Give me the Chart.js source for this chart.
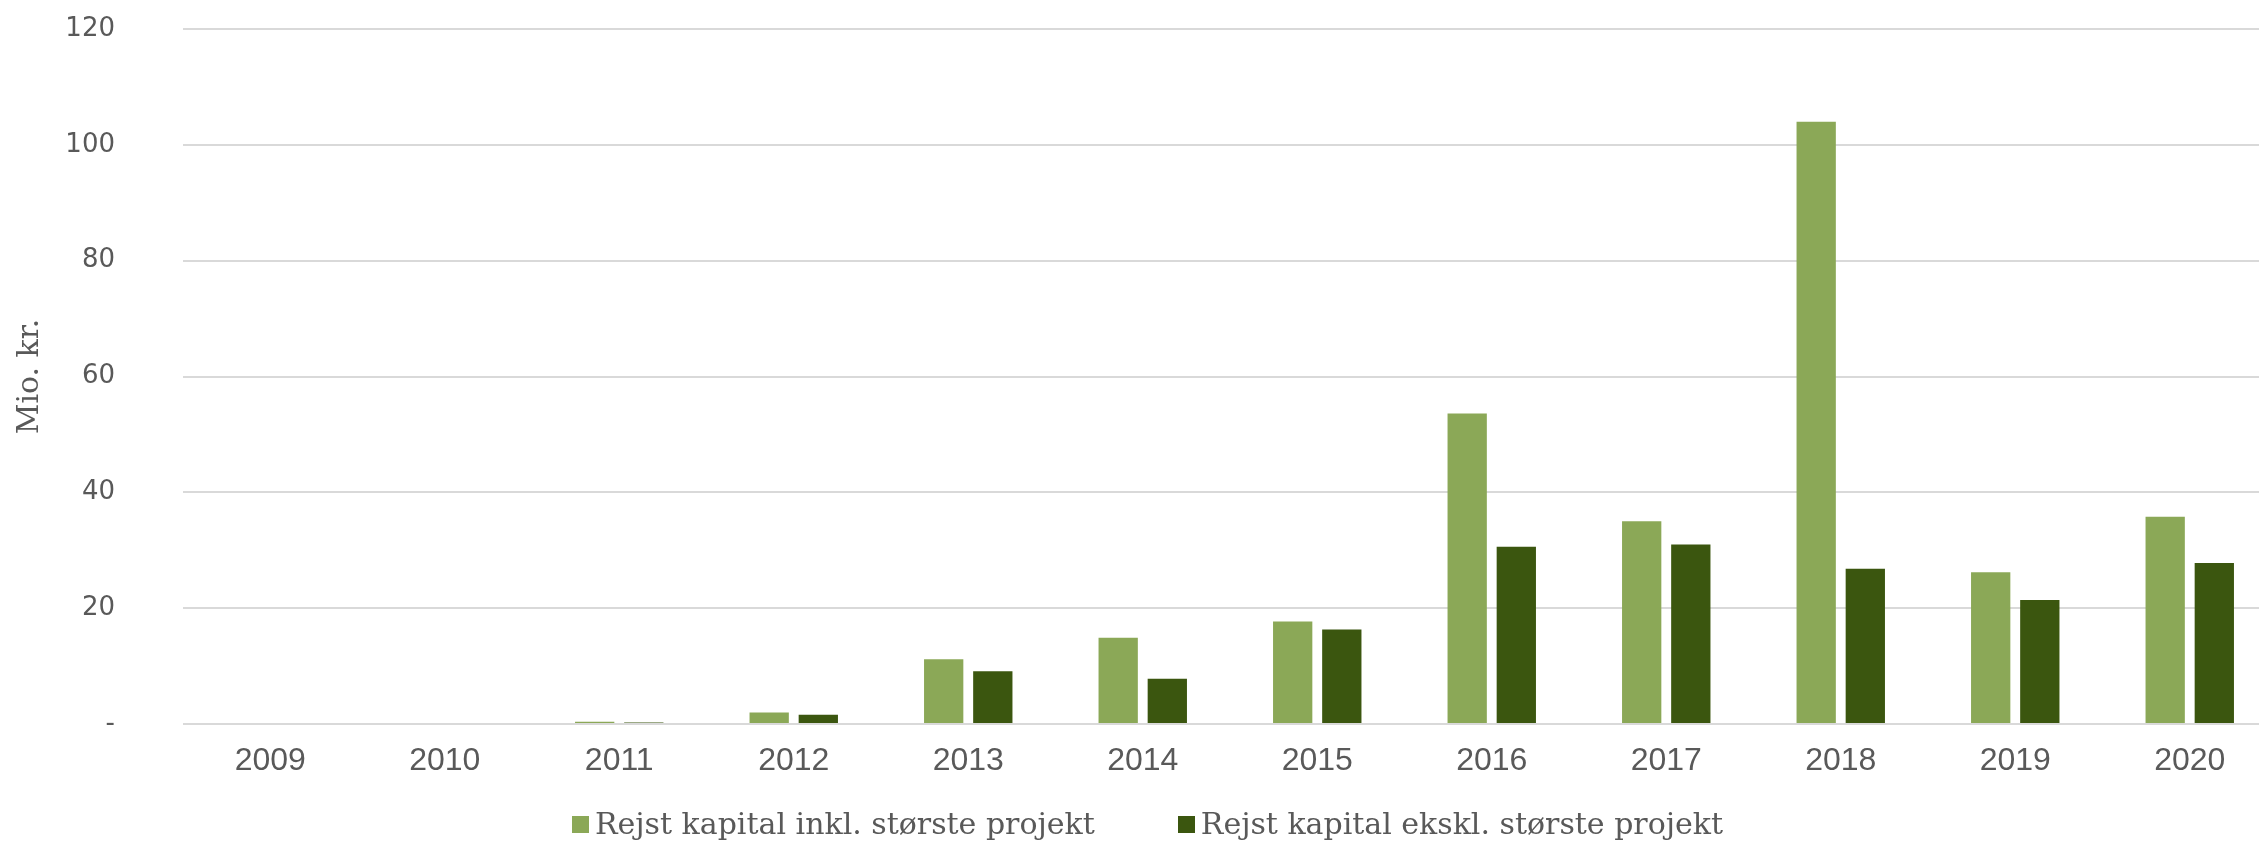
<!DOCTYPE html>
<html lang="da">
<head>
<meta charset="utf-8">
<title>Rejst kapital</title>
<script src="https://cdn.jsdelivr.net/npm/chart.js@4"></script>
<style>
  body { margin: 0; background: #fff; overflow: hidden; }
  #wrap { position: relative; width: 2277px; height: 842px; }
  #legend {
    position: absolute; left: 9px; top: 805px; width: 100%;
    display: flex; justify-content: center; gap: 83px;
    font-family: "DejaVu Serif", serif;
    font-size: 30px; color: #595959; line-height: 38px;
  }
  #legend span.item { display: flex; align-items: center; }
  #legend span.box { width: 17px; height: 17px; margin-right: 6px; display: inline-block; }
</style>
</head>
<body>
<div id="wrap">
  <canvas id="kapitalChart"></canvas>
  <div id="legend"></div>
</div>
<script>
// data (mio. kr.)
const years = ['2009', '2010', '2011', '2012', '2013', '2014', '2015', '2016', '2017', '2018', '2019', '2020'];
const inklStorste = [0, 0, 0.4, 2.0, 11.2, 14.9, 17.7, 53.6, 35.0, 104.0, 26.2, 35.8];
const ekslStorste = [0, 0, 0.25, 1.6, 9.1, 7.8, 16.3, 30.6, 31.0, 26.8, 21.4, 27.8];
const yTicks = [0, 20, 40, 60, 80, 100, 120];

const textColor = '#595959';
const gridColor = '#D9D9D9';

const ctx = document.getElementById('kapitalChart');

const chart = new Chart(ctx, {
    type: 'bar',
    data: {
        labels: years,
        datasets: [{
            label: 'Rejst kapital inkl. største projekt',
            data: inklStorste,
            backgroundColor: '#8BA857',
            categoryPercentage: 0.563,
            barPercentage: 0.8
        }, {
            label: 'Rejst kapital ekskl. største projekt',
            data: ekslStorste,
            backgroundColor: '#3B560F',
            categoryPercentage: 0.563,
            barPercentage: 0.8
        }]
    },
    options: {
        responsive: true,
        maintainAspectRatio: false,
        animation: false,
        layout: { padding: { top: 29, bottom: 48, left: 0, right: 0 } },
        scales: {
            x: {
                grid: { display: false, drawTicks: false },
                border: { display: false },
                ticks: {
                    color: textColor,
                    padding: 18,
                    font: { family: '"Liberation Sans", Arial, sans-serif', size: 32 }
                },
                afterFit: scale => { scale.height = 70; }
            },
            y: {
                min: 0,
                max: 120,
                afterBuildTicks: scale => { scale.ticks = yTicks.map(v => ({ value: v })); },
                grid: { color: gridColor, lineWidth: 2, drawTicks: false },
                border: { display: false },
                ticks: {
                    color: textColor,
                    padding: 68,
                    font: { family: '"DejaVu Sans", sans-serif', size: 26 },
                    callback: v => v === 0 ? '-' : v
                },
                title: {
                    display: true,
                    text: 'Mio. kr.',
                    color: textColor,
                    padding: { top: 12, bottom: 0 },
                    font: { family: '"DejaVu Serif", serif', size: 30, weight: 'normal' }
                },
                afterFit: scale => {
                    scale.width = 183;
                    scale.paddingTop = 0; // layout-padding styrer toppen
                }
            }
        },
        plugins: {
            legend: { display: false },
            tooltip: { enabled: false }
        }
    }
});

// legend bygget ud fra datasættene
const legendEl = document.getElementById('legend');
chart.data.datasets.forEach(ds => {
    const item = document.createElement('span');
    item.className = 'item';
    const box = document.createElement('span');
    box.className = 'box';
    box.style.background = ds.backgroundColor;
    item.appendChild(box);
    item.appendChild(document.createTextNode(ds.label));
    legendEl.appendChild(item);
});
</script>
</body>
</html>
